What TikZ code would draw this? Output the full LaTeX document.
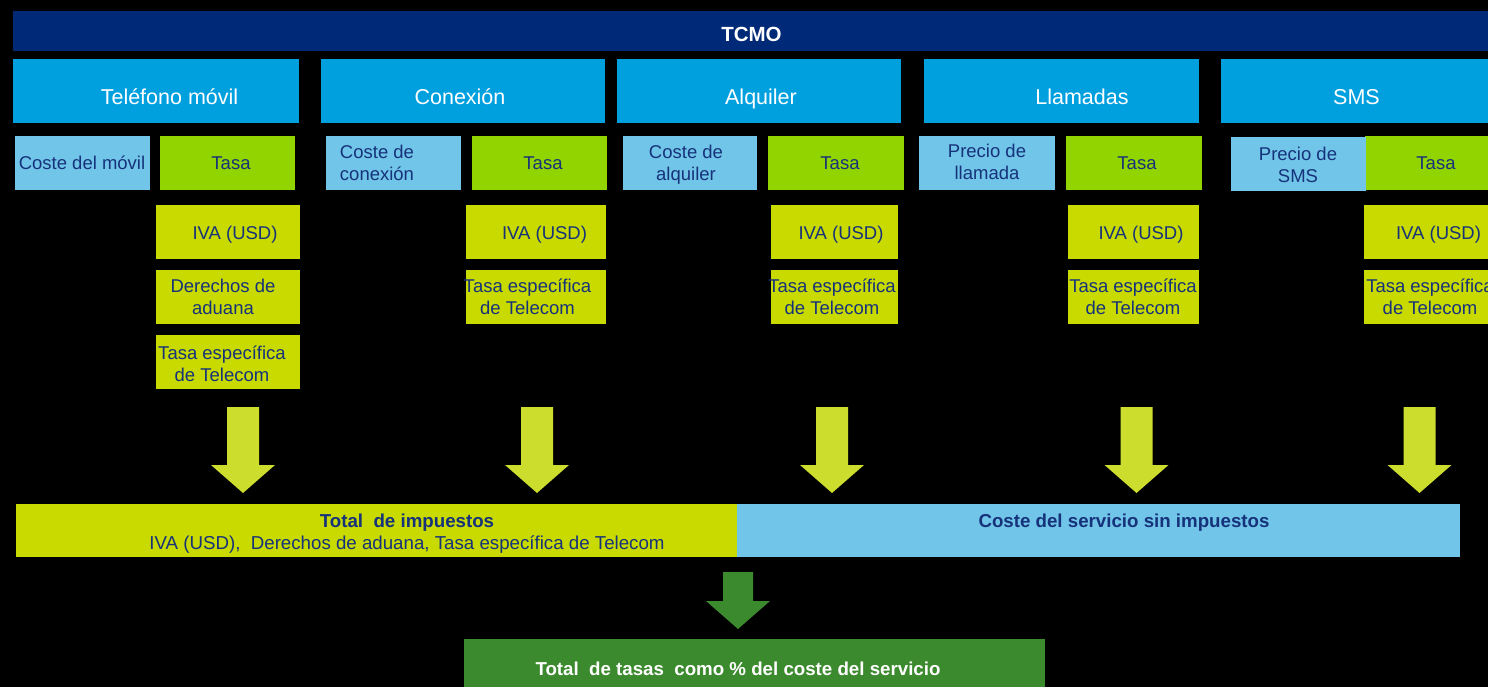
\documentclass[tikz,border=0pt]{standalone}
\usepackage{fontspec}
\setmainfont{Liberation Sans}
\definecolor{navybar}{RGB}{0,41,120}
\definecolor{hblue}{RGB}{0,160,223}
\definecolor{lblue}{RGB}{113,197,232}
\definecolor{tgreen}{RGB}{146,212,0}
\definecolor{ygreen}{RGB}{200,218,0}
\definecolor{agreen}{RGB}{204,221,46}
\definecolor{dgreen}{RGB}{60,138,46}
\definecolor{ink}{RGB}{22,50,122}
\newcommand{\strA}{\rule[-4.38pt]{0pt}{22pt}}
\newcommand{\strH}{\rule[-5.05pt]{0pt}{25.5pt}}
\newcommand{\strB}{\rule[-4.3pt]{0pt}{22pt}}
\newcommand{\strT}{\rule[-5pt]{0pt}{24.7pt}}
\tikzset{
  base/.style={inner sep=0pt, outer sep=0pt, rectangle},
  hdrbox/.style={base, fill=hblue, minimum height=64},
  costbox/.style={base, fill=lblue, minimum height=54},
  tasabox/.style={base, fill=tgreen, minimum height=54},
  taxbox/.style={base, fill=ygreen, minimum height=54},
  smalltxt/.style={base, align=center, text=ink, font=\fontsize{18.5}{22}\selectfont},
  hdrtxt/.style={base, align=center, text=white, font=\fontsize{21.5}{25.5}\selectfont},
  bottxt/.style={base, align=center, text=ink, font=\fontsize{18.7}{22}\selectfont},
  downarrow/.pic={\fill[agreen] (-16,0) -- (16,0) -- (16,58) -- (32,58) -- (0,86) -- (-32,58) -- (-16,58) -- cycle;},
  greenarrow/.pic={\fill[dgreen] (-15,0) -- (15,0) -- (15,29) -- (32,29) -- (0,57) -- (-32,29) -- (-15,29) -- cycle;}
}
\begin{document}
\begin{tikzpicture}[x=1pt,y=-1pt]
\useasboundingbox (0,0) rectangle (1488,687);
\fill[black] (0,0) rectangle (1488,687);

% top bar
\node[base, fill=navybar, minimum width=1475, minimum height=40] (tcmo) at (750.5,31) {};
\node[base, text=white, font=\fontsize{20.5}{24.7}\selectfont\bfseries] (tcmot) at (751.5,33.7) {\strT TCMO};

% headers
\node[hdrbox, minimum width=286] (h1) at (156,91) {};
\node[hdrbox, minimum width=284] (h2) at (463,91) {};
\node[hdrbox, minimum width=284] (h3) at (759,91) {};
\node[hdrbox, minimum width=275] (h4) at (1061.5,91) {};
\node[hdrbox, minimum width=267] (h5) at (1354.5,91) {};
\node[hdrtxt] (h1t) at (169.5,96.5) {\strH Teléfono móvil};
\node[hdrtxt] (h2t) at (460,96.5) {\strH Conexión};
\node[hdrtxt] (h3t) at (761,96.5) {\strH Alquiler};
\node[hdrtxt] (h4t) at (1082,96.5) {\strH Llamadas};
\node[hdrtxt] (h5t) at (1356.5,96.5) {\strH SMS};

% row 2: cost and Tasa
\node[costbox, minimum width=135] (c1) at (82.5,163) {};
\node[tasabox, minimum width=135] (t1) at (227.5,163) {};
\node[costbox, minimum width=135] (c2) at (393.5,163) {};
\node[tasabox, minimum width=135] (t2) at (539.5,163) {};
\node[costbox, minimum width=134] (c3) at (690,163) {};
\node[tasabox, minimum width=136] (t3) at (836,163) {};
\node[costbox, minimum width=136] (c4) at (987,163) {};
\node[tasabox, minimum width=136] (t4) at (1134,163) {};
\node[tasabox, minimum width=123] (t5) at (1426.5,163) {};
\node[costbox, minimum width=135] (c5) at (1298.5,164) {};
\node[smalltxt] (c1t) at (82,163) {\strA Coste del móvil};
\node[smalltxt] (t1t) at (231,163) {\strA Tasa};
\node[smalltxt] (c2t) at (377,163) {\strA Coste de\\\strA conexión};
\node[smalltxt] (t2t) at (543,163) {\strA Tasa};
\node[smalltxt] (c3t) at (686,163) {\strA Coste de\\\strA alquiler};
\node[smalltxt] (t3t) at (840,163) {\strA Tasa};
\node[smalltxt] (c4t) at (987,161.5) {\strA Precio de\\\strA llamada};
\node[smalltxt] (t4t) at (1137,163) {\strA Tasa};
\node[smalltxt] (c5t) at (1298,164.5) {\strA Precio de\\\strA SMS};
\node[smalltxt] (t5t) at (1436,163) {\strA Tasa};

% row 3: IVA
\node[taxbox, minimum width=144] (i1) at (228,232) {};
\node[taxbox, minimum width=140] (i2) at (536,232) {};
\node[taxbox, minimum width=127] (i3) at (834.5,232) {};
\node[taxbox, minimum width=131] (i4) at (1133.5,232) {};
\node[taxbox, minimum width=124] (i5) at (1426,232) {};
\node[smalltxt] (i1t) at (235,233) {\strA IVA (USD)};
\node[smalltxt] (i2t) at (544.5,233) {\strA IVA (USD)};
\node[smalltxt] (i3t) at (841,233) {\strA IVA (USD)};
\node[smalltxt] (i4t) at (1141,233) {\strA IVA (USD)};
\node[smalltxt] (i5t) at (1438.5,233) {\strA IVA (USD)};

% row 4
\node[taxbox, minimum width=144] (d1) at (228,297) {};
\node[taxbox, minimum width=140] (e2) at (536,297) {};
\node[taxbox, minimum width=127] (e3) at (834.5,297) {};
\node[taxbox, minimum width=131] (e4) at (1133.5,297) {};
\node[taxbox, minimum width=124] (e5) at (1426,297) {};
\node[smalltxt] (d1t) at (223,296.5) {\strA Derechos de\\\strA aduana};
\node[smalltxt] (e2t) at (527.5,297) {\strA Tasa específica\\\strA de Telecom};
\node[smalltxt] (e3t) at (832,297) {\strA Tasa específica\\\strA de Telecom};
\node[smalltxt] (e4t) at (1133,297) {\strA Tasa específica\\\strA de Telecom};
\node[smalltxt] (e5t) at (1430,297) {\strA Tasa específica\\\strA de Telecom};

% row 5
\node[taxbox, minimum width=144] (e1) at (228,362) {};
\node[smalltxt] (e1t) at (222,363.5) {\strA Tasa específica\\\strA de Telecom};

% arrows
\pic at (243,407) {downarrow};
\pic at (537,407) {downarrow};
\pic at (832,407) {downarrow};
\pic at (1136.5,407) {downarrow};
\pic at (1419.5,407) {downarrow};

% bottom bars
\node[base, fill=ygreen, minimum width=721, minimum height=53] (tax) at (376.5,530.5) {};
\node[base, fill=lblue, minimum width=723, minimum height=53] (svc) at (1098.5,530.5) {};
\node[bottxt] (taxt) at (407,531.5) {\strB\textbf{Total~ de impuestos}\\\strB IVA (USD),~ Derechos de aduana, Tasa específica de Telecom};
\node[bottxt] (svct) at (1124,520.5) {\strB\textbf{Coste del servicio sin impuestos}};

\pic at (738,572) {greenarrow};

\node[base, fill=dgreen, minimum width=581, minimum height=48] (res) at (754.5,663) {};
\node[bottxt, text=white] (rest) at (738,668.5) {\strB\textbf{Total~ de tasas~ como \% del coste del servicio}};
\end{tikzpicture}
\end{document}
